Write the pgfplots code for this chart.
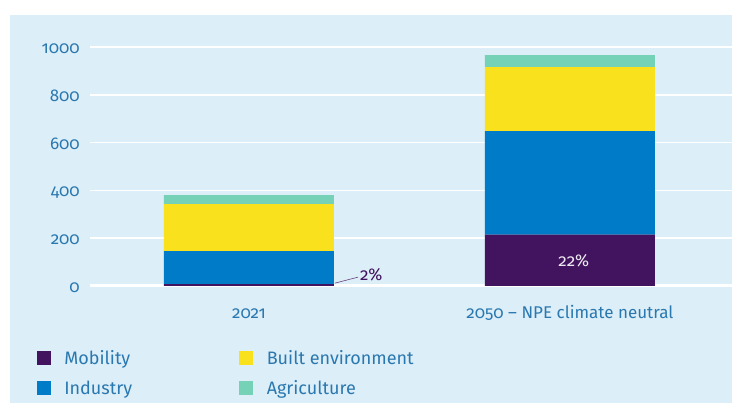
\documentclass[border=0pt]{standalone}
\usepackage{pgfplots}
\pgfplotsset{compat=1.18}
\usepackage{fontspec}
\setmainfont{Fira Sans}[Numbers=OldStyle]
\definecolor{bgc}{HTML}{DCEEF7}
\definecolor{mob}{HTML}{42145F}
\definecolor{ind}{HTML}{007BC7}
\definecolor{blt}{HTML}{F9E11E}
\definecolor{agr}{HTML}{76D2B6}
\definecolor{txt}{HTML}{2A78B0}
\pgfplotsset{sq/.style={legend image code/.code={\fill[#1] (0pt,0pt) rectangle (13pt,12.7pt); \path (27pt,0pt);}}}
\begin{document}
\begin{tikzpicture}
\path[use as bounding box] (0,0) rectangle (732pt,403pt);
\fill[bgc] (10pt,0) rectangle (732pt,388pt);
\begin{axis}[
  at={(90pt,117pt)}, anchor=south west,
  scale only axis, width=642pt, height=239pt,
  xmin=-0.495, xmax=1.505, ymin=0, ymax=1000,
  clip=false,
  ybar stacked, bar width=0.53,
  axis line style={draw=none},
  major tick length=0pt,
  ytick={0,200,...,1000},
  ymajorgrids, major grid style={white, line width=1.5pt},
  extra y ticks={0}, extra y tick labels={},
  extra y tick style={major grid style={white, line width=3pt}},
  xtick={0,1}, xticklabels={2021, 2050 -- NPE climate neutral},
  /pgf/number format/assume math mode=true,
  /pgf/number format/1000 sep={},
  yticklabel style={font=\fontsize{17}{20}\selectfont, text=txt, anchor=base east, inner sep=0pt, xshift=-10pt, yshift=-6.5pt},
  xticklabel style={font=\fontsize{17}{20}\selectfont, text=txt, anchor=base, inner sep=0pt, yshift=-33pt},
  legend columns=2,
  legend style={at={(axis description cs:-0.0826,-0.272)}, anchor=north west, draw=none, fill=none,
    inner sep=0pt, outer sep=0pt, row sep=13pt, column sep=0pt,
    font=\fontsize{18}{21}\selectfont, text=txt,
    cells={anchor=base west}, nodes={inner sep=0pt, text height=13pt, text depth=4pt}},
]
\addlegendimage{sq=mob}
\addlegendentry{\makebox[175pt][l]{Mobility}}
\addlegendimage{sq=blt}
\addlegendentry{Built environment}
\addlegendimage{sq=ind}
\addlegendentry{\makebox[175pt][l]{Industry}}
\addlegendimage{sq=agr}
\addlegendentry{Agriculture}
\addplot[fill=mob, draw=none] coordinates {(0,8) (1,215)};
\addplot[fill=ind, draw=none] coordinates {(0,138) (1,433)};
\addplot[fill=blt, draw=none] coordinates {(0,197) (1,268)};
\addplot[fill=agr, draw=none] coordinates {(0,37) (1,50)};
\draw[mob!80, line width=0.6pt] (axis cs:0.268,12) -- (axis cs:0.34,37);
\node[anchor=base west, inner sep=0pt, text=mob, font=\fontsize{17}{20}\selectfont] at (axis cs:0.346,21) {2\%};
\coordinate (p22) at (axis cs:1.012,83);
\end{axis}
\node[anchor=base, inner sep=0pt, text=white!90!mob, font=\fontsize{17}{20}\selectfont] at (p22) {22\%};
\end{tikzpicture}
\end{document}
